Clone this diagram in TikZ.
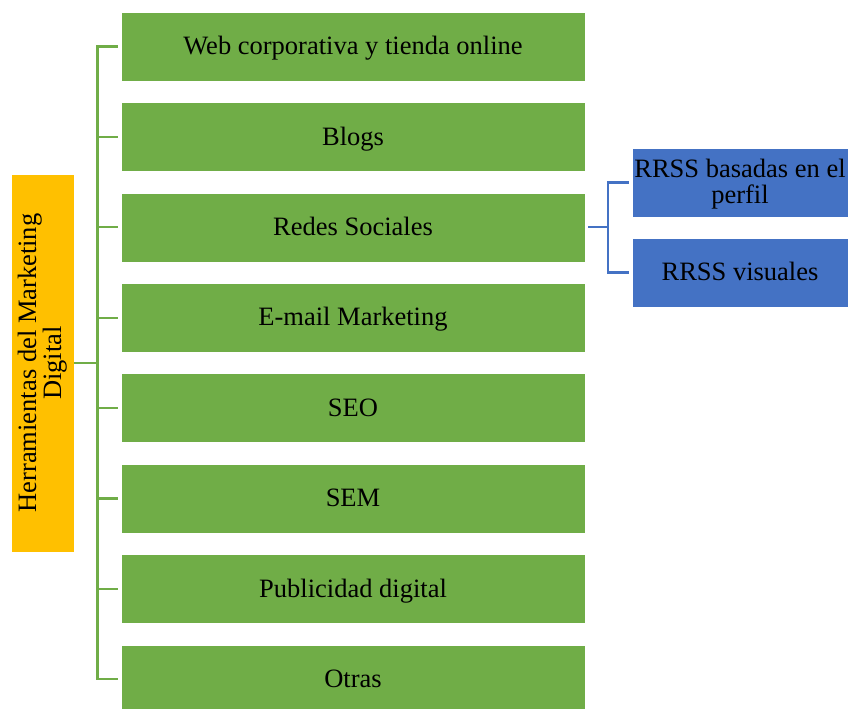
\documentclass[tikz,border=0pt]{standalone}
\usepackage{fontspec}
\setmainfont{Liberation Serif}
\definecolor{gfill}{HTML}{70AD47}
\definecolor{yfill}{HTML}{FFC000}
\definecolor{bfill}{HTML}{4472C4}
\begin{document}
\begin{tikzpicture}[x=1pt,y=-1pt,
  gbox/.style={fill=gfill,draw=white,line width=0.6pt,minimum width=464pt,minimum height=69pt,inner sep=0pt,text height=18.5pt,text depth=2pt,font=\fontsize{26.5}{26}\selectfont},
  bbox/.style={fill=bfill,draw=white,line width=0.6pt,minimum width=216pt,minimum height=69pt,inner sep=0pt,align=center,text depth=2pt,font=\fontsize{26.5}{26}\selectfont},
  ybox/.style={fill=yfill,draw=white,line width=0.6pt,minimum width=63pt,minimum height=378pt,inner sep=0pt},
  gline/.style={draw=gfill,line width=2.2pt},
  bline/.style={draw=bfill,line width=2.2pt}]
\clip (0,0) rectangle (849,709);
\useasboundingbox (0,0) rectangle (849,709);
\node[ybox] (root) at (42.3,363) {};
\node[rotate=90,align=center,font=\fontsize{26.5}{25}\selectfont,inner sep=0pt] (rootlabel) at (root.center) {Herramientas del Marketing\\Digital};
\node[gbox] (g1) at (353,46.5) {Web corporativa y tienda online};
\node[gbox] (g2) at (353,136.9) {Blogs};
\node[gbox] (g3) at (353,227.3) {Redes Sociales};
\node[gbox] (g4) at (353,317.7) {E-mail Marketing};
\node[gbox] (g5) at (353,408.1) {SEO};
\node[gbox] (g6) at (353,498.5) {SEM};
\node[gbox] (g7) at (353,588.9) {Publicidad digital};
\node[gbox] (g8) at (353,679.3) {Otras};
\node[bbox] (b1) at (740,182.5) {RRSS basadas en el\\perfil};
\node[bbox,text height=18.5pt] (b2) at (740,272.5) {RRSS visuales};
\coordinate (gx) at (97.5,0);
\draw[gline] (root.east) -- (root.east -| gx);
\draw[gline] ([xshift=-3pt]g1.west) -- (g1.west -| gx) -- (g8.west -| gx) -- ([xshift=-3pt]g8.west);
\foreach \i in {2,...,7} {\draw[gline] (g\i.west -| gx) -- ([xshift=-3pt]g\i.west);}
\coordinate (bx) at (608,0);
\draw[bline] ([xshift=3pt]g3.east) -- (g3.east -| bx);
\draw[bline] ([xshift=-3pt]b1.west) -- (b1.west -| bx) -- (b2.west -| bx) -- ([xshift=-3pt]b2.west);
\end{tikzpicture}
\end{document}
